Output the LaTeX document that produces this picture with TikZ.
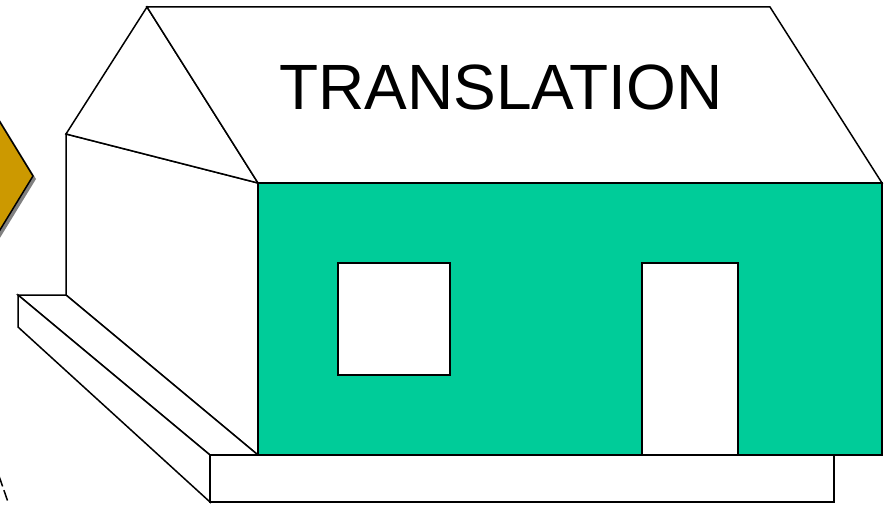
\documentclass[tikz,border=0pt]{standalone}
\usepackage{fontspec}
\setmainfont{Liberation Sans}
\definecolor{wallgreen}{RGB}{0,204,153}
\definecolor{signgold}{RGB}{204,153,0}
\definecolor{signshadow}{RGB}{128,128,128}
\begin{document}
\begin{tikzpicture}[x=1pt,y=-1pt,
  outline/.style={draw=black,line width=1.5pt,line join=miter},
  plain/.style={outline,fill=white}]
\useasboundingbox (0,0) rectangle (886,505);
\clip (0,0) rectangle (886,505);
% key points of the house
\coordinate (peak) at (147,7);
\coordinate (ridgeR) at (770,7);
\coordinate (eaveR) at (882,183);
\coordinate (eaveF) at (258,183);
\coordinate (eaveL) at (66,134);
\coordinate (sideB) at (66,295);
\coordinate (stepTL) at (18,295);
\coordinate (stepBL) at (18,327);
\coordinate (baseTL) at (210,455);
\coordinate (baseBL) at (210,502);
\coordinate (wallBL) at (258,455);
% road sign at the left edge
\fill[signshadow] (-24,81) -- (36,179) -- (-24,277) -- (-84,179) -- cycle;
\draw[outline,fill=signgold] (-27,78) -- (33,176) -- (-27,274) -- (-87,176) -- cycle;
% side wall
\draw[plain] (eaveL) -- (sideB) -- (wallBL) -- (eaveF) -- cycle;
% gable
\draw[plain] (peak) -- (eaveL) -- (eaveF) -- cycle;
% roof
\draw[plain] (peak) -- (ridgeR) -- (eaveR) -- (eaveF) -- cycle;
% step along the side
\draw[plain] (stepTL) -- (sideB) -- (wallBL) -- (baseTL) -- cycle;
\draw[plain] (stepTL) -- (baseTL) -- (baseBL) -- (stepBL) -- cycle;
% base slab
\draw[plain] (baseTL) rectangle (834,502);
% front wall
\draw[outline,fill=wallgreen] (eaveF) rectangle (882,455);
% window and door
\draw[plain] (338,263) rectangle (450,375);
\draw[plain] (642,263) rectangle (738,455);
% title on the roof
\node[font=\fontsize{64}{64}\selectfont,inner sep=0pt,anchor=base] (title) at (501,110) {TRANSLATION};
% dashed mark at the lower left
\coordinate (dashA) at (-1,476);
\coordinate (dashB) at (8,502);
\draw[line width=1.5pt,dash pattern=on 11pt off 4pt] (dashA) -- (dashB);
\end{tikzpicture}
\end{document}
